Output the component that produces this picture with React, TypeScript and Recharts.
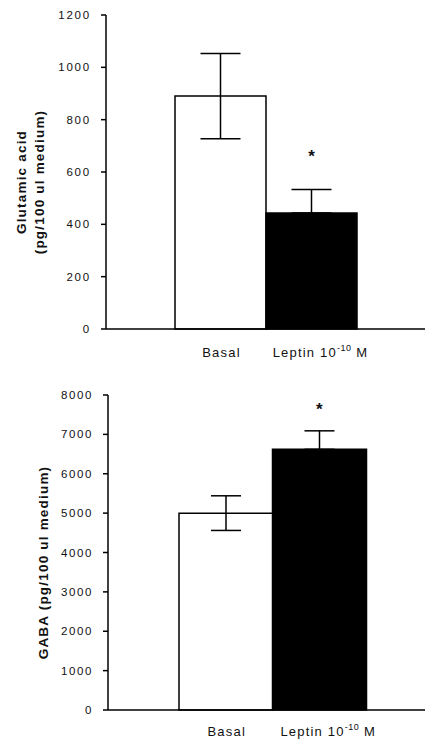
import {
  Bar,
  Cell,
  ComposedChart,
  ErrorBar,
  Scatter,
  XAxis,
  YAxis,
} from "recharts";

const categories = ["Basal", "Leptin"];

const glutamicMean = [890, 443];
const glutamicErrDown = [163, 0];
const glutamicErrUp = [163, 90];
const glutamicStar = [null, 660];
const glutamicTicks = [0, 200, 400, 600, 800, 1000, 1200];

const gabaMean = [5000, 6620];
const gabaErrDown = [440, 0];
const gabaErrUp = [440, 470];
const gabaStar = [null, 7620];
const gabaTicks = [0, 1000, 2000, 3000, 4000, 5000, 6000, 7000, 8000];

const barFills = ["#ffffff", "#000000"];

const INK = "#000";
const TEXT = "#111";
const FONT = "'Liberation Sans', Arial, sans-serif";

const glutamicRows = categories.map((c, i) => ({
  name: c,
  value: glutamicMean[i],
  err: [glutamicErrDown[i], glutamicErrUp[i]],
  star: glutamicStar[i],
}));

const gabaRows = categories.map((c, i) => ({
  name: c,
  value: gabaMean[i],
  err: [gabaErrDown[i], gabaErrUp[i]],
  star: gabaStar[i],
}));

export default function App() {
  return (
    <div style={{ position: "absolute", left: 0, top: 0, width: 425, height: 744, background: "#fff" }}>
      <ComposedChart
        width={425}
        height={370}
        data={glutamicRows}
        barCategoryGap={0}
        margin={{ top: 15, right: 0, left: 0, bottom: 0 }}
      >
        <XAxis
          dataKey="name"
          stroke={INK}
          strokeWidth={1.5}
          height={41}
          tickLine={false}
          tickSize={0}
          tickMargin={0}
          padding={{ left: 69, right: 68 }}
          tick={(p: any) => <CategoryTick {...p} base={28} />}
        />
        <YAxis
          width={106}
          domain={[0, 1200]}
          ticks={glutamicTicks}
          stroke={INK}
          strokeWidth={1.5}
          tickSize={5}
          tickMargin={10}
          tick={{ fill: TEXT, fontSize: 11.5, letterSpacing: 1.8, fontFamily: FONT }}
          label={(p: any) => (
            <AxisTitle viewBox={p.viewBox} lines={["Glutamic acid", "(pg/100 ul medium)"]} xs={[21, 39]} />
          )}
        />
        <Bar dataKey="value" stroke={INK} strokeWidth={1.5} isAnimationActive={false}>
          {glutamicRows.map((_, i) => (
            <Cell key={i} fill={barFills[i]} />
          ))}
          <ErrorBar dataKey="err" width={20} stroke={INK} strokeWidth={1.5} />
        </Bar>
        <Scatter dataKey="star" shape={<Star />} isAnimationActive={false} />
      </ComposedChart>

      <ComposedChart
        width={425}
        height={374}
        data={gabaRows}
        barCategoryGap={0}
        margin={{ top: 25, right: 0, left: 0, bottom: 0 }}
      >
        <XAxis
          dataKey="name"
          stroke={INK}
          strokeWidth={1.5}
          height={34}
          tickLine={false}
          tickSize={0}
          tickMargin={0}
          padding={{ left: 71, right: 59 }}
          tick={(p: any) => <CategoryTick {...p} base={26} />}
        />
        <YAxis
          width={108}
          domain={[0, 8000]}
          ticks={gabaTicks}
          stroke={INK}
          strokeWidth={1.5}
          tickSize={5}
          tickMargin={10}
          tick={{ fill: TEXT, fontSize: 11.5, letterSpacing: 1.6, fontFamily: FONT }}
          label={(p: any) => (
            <AxisTitle viewBox={p.viewBox} lines={["GABA (pg/100 ul medium)"]} xs={[43]} />
          )}
        />
        <Bar dataKey="value" stroke={INK} strokeWidth={1.5} isAnimationActive={false}>
          {gabaRows.map((_, i) => (
            <Cell key={i} fill={barFills[i]} />
          ))}
          <ErrorBar dataKey="err" width={15} stroke={INK} strokeWidth={1.5} />
        </Bar>
        <Scatter dataKey="star" shape={<Star />} isAnimationActive={false} />
      </ComposedChart>
    </div>
  );
}

function CategoryTick({ x, y, payload, base }: any) {
  const style = { fill: TEXT, fontFamily: FONT, fontSize: 13, letterSpacing: 1.2 };
  if (payload.value === "Leptin") {
    return (
      <text x={x + 9} y={y + base} textAnchor="middle" style={style}>
        Leptin 10
        <tspan fontSize={9} dy={-6} letterSpacing={0.5}>
          -10
        </tspan>
        <tspan dy={6}> M</tspan>
      </text>
    );
  }
  return (
    <text x={x + 1} y={y + base} textAnchor="middle" style={style}>
      {payload.value}
    </text>
  );
}

function AxisTitle({ viewBox, lines, xs }: any) {
  const cy = viewBox.y + viewBox.height / 2 + 10;
  return (
    <g>
      {lines.map((line: string, i: number) => (
        <text
          key={i}
          x={xs[i]}
          y={cy}
          transform={`rotate(-90 ${xs[i]} ${cy})`}
          textAnchor="middle"
          dominantBaseline="central"
          style={{ fill: TEXT, fontFamily: FONT, fontWeight: 700, fontSize: 13.5, letterSpacing: 1.2 }}
        >
          {line}
        </text>
      ))}
    </g>
  );
}

function Star({ cx, cy }: any) {
  if (cx == null || cy == null) return null;
  return (
    <text
      x={cx}
      y={cy}
      textAnchor="middle"
      dominantBaseline="central"
      style={{ fill: TEXT, fontFamily: FONT, fontWeight: 700, fontSize: 17 }}
    >
      *
    </text>
  );
}
